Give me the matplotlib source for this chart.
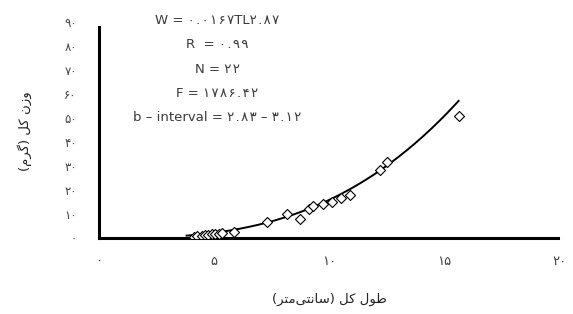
import numpy as np
import matplotlib
matplotlib.use("Agg")
import matplotlib.pyplot as plt

# طول کل (سانتی‌متر) و وزن کل (گرم) - مقادیر خوانده شده از نمودار
length_cm = [4.1, 4.25, 4.45, 4.6, 4.75, 4.9, 5.05, 5.2, 5.35, 5.85, 7.3,
             8.15, 8.7, 9.1, 9.3, 9.7, 10.1, 10.5, 10.9, 12.2, 12.5, 15.6]
weight_g = [0.5, 0.8, 0.9, 1.1, 1.3, 1.5, 1.8, 1.6, 2.0, 2.6, 6.6,
            10.2, 7.9, 12.2, 13.4, 14.2, 15.2, 16.6, 18.0, 28.5, 31.5, 50.8]

# power curve W = a * L^b (as drawn)
fit_a = 0.0215
fit_b = 2.87

x_ticks = [0, 5, 10, 15, 20]
x_tick_labels = ["۰", "۵", "۱۰", "۱۵", "۲۰"]
y_ticks = [0, 10, 20, 30, 40, 50, 60, 70, 80, 90]
y_tick_labels = ["۰", "۱۰", "۲۰", "۳۰", "۴۰", "۵۰", "۶۰", "۷۰", "۸۰", "۹۰"]

# hair spaces between persian digits, the source font is very wide
hs = "\u200a"
stats_lines = [
    "W = " + hs.join("۰.۰۱۶۷") + "TL" + hs.join("۲.۸۷"),
    "R  = " + hs.join("۰.۹۹"),
    "N = " + hs.join("۲۲"),
    "F = " + hs.join("۱۷۸۶.۴۲"),
    "b – interval = " + hs.join("۲.۸۳") + " – " + hs.join("۳.۱۲"),
]

# Persian labels in visual order (presentation forms)
x_label = "(\uFEAE\uFE98\uFEE3\u200c\uFBFD\uFE98\uFEE7\uFE8E\uFEB3) \uFEDE\uFB90 \uFEDD\uFEEE\uFEC3"
y_label = "(\uFEE1\uFEAE\uFB94) \uFEDE\uFB90 \uFEE5\uFEAF\uFEED"

plt.rcParams['font.family'] = ['DejaVu Sans']

fig = plt.figure(figsize=(5.73, 3.14), dpi=100)
ax = fig.add_axes([0.1728, 0.242, 0.8045, 0.688])

ax.scatter(length_cm, weight_g, marker='D', s=26, facecolors='white',
           edgecolors='black', linewidths=0.8, zorder=3)

xs = np.linspace(min(length_cm) - 0.3, max(length_cm), 200)
ax.plot(xs, fit_a * xs ** fit_b, color='black', lw=1.4, zorder=2)

ax.set_xlim(0, 20)
ax.set_ylim(0, 90)
ax.spines['top'].set_visible(False)
ax.spines['right'].set_visible(False)
ax.spines['left'].set_linewidth(2.2)
ax.spines['bottom'].set_linewidth(2.2)
ax.spines['left'].set_bounds(0, 88)
ax.spines['bottom'].set_bounds(0, 19.9)

ax.set_xticks(x_ticks)
ax.set_xticklabels(x_tick_labels)
ax.set_yticks(y_ticks)
ax.set_yticklabels(y_tick_labels)
ax.tick_params(axis='x', length=0, pad=12, labelsize=9.5, colors='#444444')
ax.tick_params(axis='y', length=0, pad=16, labelsize=8.5, colors='#444444')

ax.set_xlabel(x_label, fontsize=9.5, labelpad=18, color='#222222')
ax.set_ylabel(y_label, fontsize=9.5, color='#222222')
ax.yaxis.set_label_coords(-0.145, 0.495)

for i, line in enumerate(stats_lines):
    ax.text(5.12, 90.8 - i * 10.2, line, ha='center', va='center',
            fontsize=9.5, color='#3a3a3a')

fig.savefig('out.png', dpi=100)
